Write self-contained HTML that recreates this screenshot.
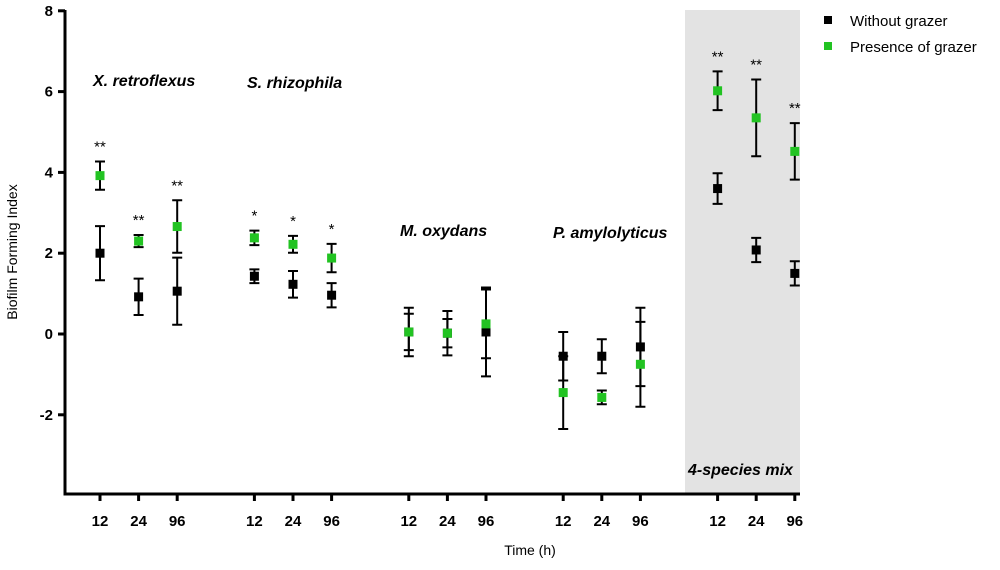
<!DOCTYPE html>
<html><head><meta charset="utf-8"><style>
body{margin:0;background:#fff;}
svg text{font-family:"Liberation Sans",Arial,sans-serif;}
</style></head><body>
<svg id="chart" width="1000" height="565" viewBox="0 0 1000 565" xmlns="http://www.w3.org/2000/svg">
<rect x="685" y="10" width="115" height="484" fill="#e3e3e3"/>
<g id="plot"></g>
<text transform="translate(17,252) rotate(-90)" text-anchor="middle" font-size="14">Biofilm Forming Index</text>
<text x="530" y="555" text-anchor="middle" font-size="14">Time (h)</text>
<g font-weight="bold" font-style="italic" font-size="16">
<text x="93" y="86">X. retroflexus</text>
<text x="247" y="88">S. rhizophila</text>
<text x="400" y="236">M. oxydans</text>
<text x="553" y="238">P. amylolyticus</text>
<text x="688" y="475">4-species mix</text>
</g>
<g font-size="15">
<rect x="824" y="16" width="8" height="8" fill="#000"/>
<text x="850" y="26">Without grazer</text>
<rect x="824" y="42" width="8" height="8" fill="#22c322"/>
<text x="850" y="52">Presence of grazer</text>
</g>
</svg>
<script>
const groups=["X. retroflexus","S. rhizophila","M. oxydans","P. amylolyticus","4-species mix"];
const times=["12","24","96"];
const yTicks=[8,6,4,2,0,-2];
const blackMean=[2.0,0.92,1.06, 1.43,1.23,0.96, 0.05,0.02,0.05, -0.55,-0.55,-0.32, 3.6,2.08,1.5];
const blackErr=[0.67,0.45,0.83, 0.17,0.33,0.3, 0.6,0.55,1.1, 0.6,0.42,0.97, 0.38,0.3,0.3];
const greenMean=[3.92,2.3,2.66, 2.38,2.22,1.88, 0.05,0.02,0.25, -1.45,-1.57,-0.75, 6.02,5.35,4.52];
const greenErr=[0.35,0.15,0.65, 0.18,0.21,0.35, 0.45,0.35,0.85, 0.9,0.17,1.05, 0.48,0.95,0.7];
const stars=["**","**","**","*","*","*","","","","","","","**","**","**"];
const NS="http://www.w3.org/2000/svg";
const g=document.getElementById('plot');
function y(v){return 334-40.4*v;}
function x(i){const gr=Math.floor(i/3),k=i%3;return 100+(gr*4+k)*38.6;}
function el(t,a){const e=document.createElementNS(NS,t);for(const k in a)e.setAttribute(k,a[k]);g.appendChild(e);return e;}
const ax=el('path',{d:'M65,10 V494 H800',stroke:'#000','stroke-width':3,fill:'none'});


yTicks.forEach(v=>{
 const t=el('line',{x1:58,x2:65,y1:y(v),y2:y(v),stroke:'#000','stroke-width':3});
 
 
 const l=el('text',{x:53,y:y(v)+5,'text-anchor':'end','font-size':15,'font-weight':'bold'});l.textContent=v;
 
 
});
for(let i=0;i<15;i++){
 const t=el('line',{x1:x(i),x2:x(i),y1:494,y2:501,stroke:'#000','stroke-width':3});
 
 
 const l=el('text',{x:x(i),y:526,'text-anchor':'middle','font-size':15,'font-weight':'bold'});l.textContent=times[i%3];
 
 
}
function series(m,e,col,name){
 for(let i=0;i<m.length;i++){
  const cx=x(i),hi=y(m[i]+e[i]),lo=y(m[i]-e[i]);
  const b=el('path',{d:`M${cx},${hi}V${lo}M${cx-5},${hi}H${cx+5}M${cx-5},${lo}H${cx+5}`,stroke:'#000','stroke-width':2,fill:'none'});
  
  
 }
 for(let i=0;i<m.length;i++){
  const p=el('rect',{x:x(i)-4.5,y:y(m[i])-4.5,width:9,height:9,fill:col});
  
  
 }
}
series(blackMean,blackErr,'#000','without-grazer');
series(greenMean,greenErr,'#22c322','presence-grazer');
for(let i=0;i<15;i++){
 if(!stars[i])continue;
 const top=Math.min(y(blackMean[i]+blackErr[i]),y(greenMean[i]+greenErr[i]));
 const s=el('text',{x:x(i),y:top-10,'text-anchor':'middle','font-size':15});s.textContent=stars[i];
 
 
}
</script>
</body></html>
